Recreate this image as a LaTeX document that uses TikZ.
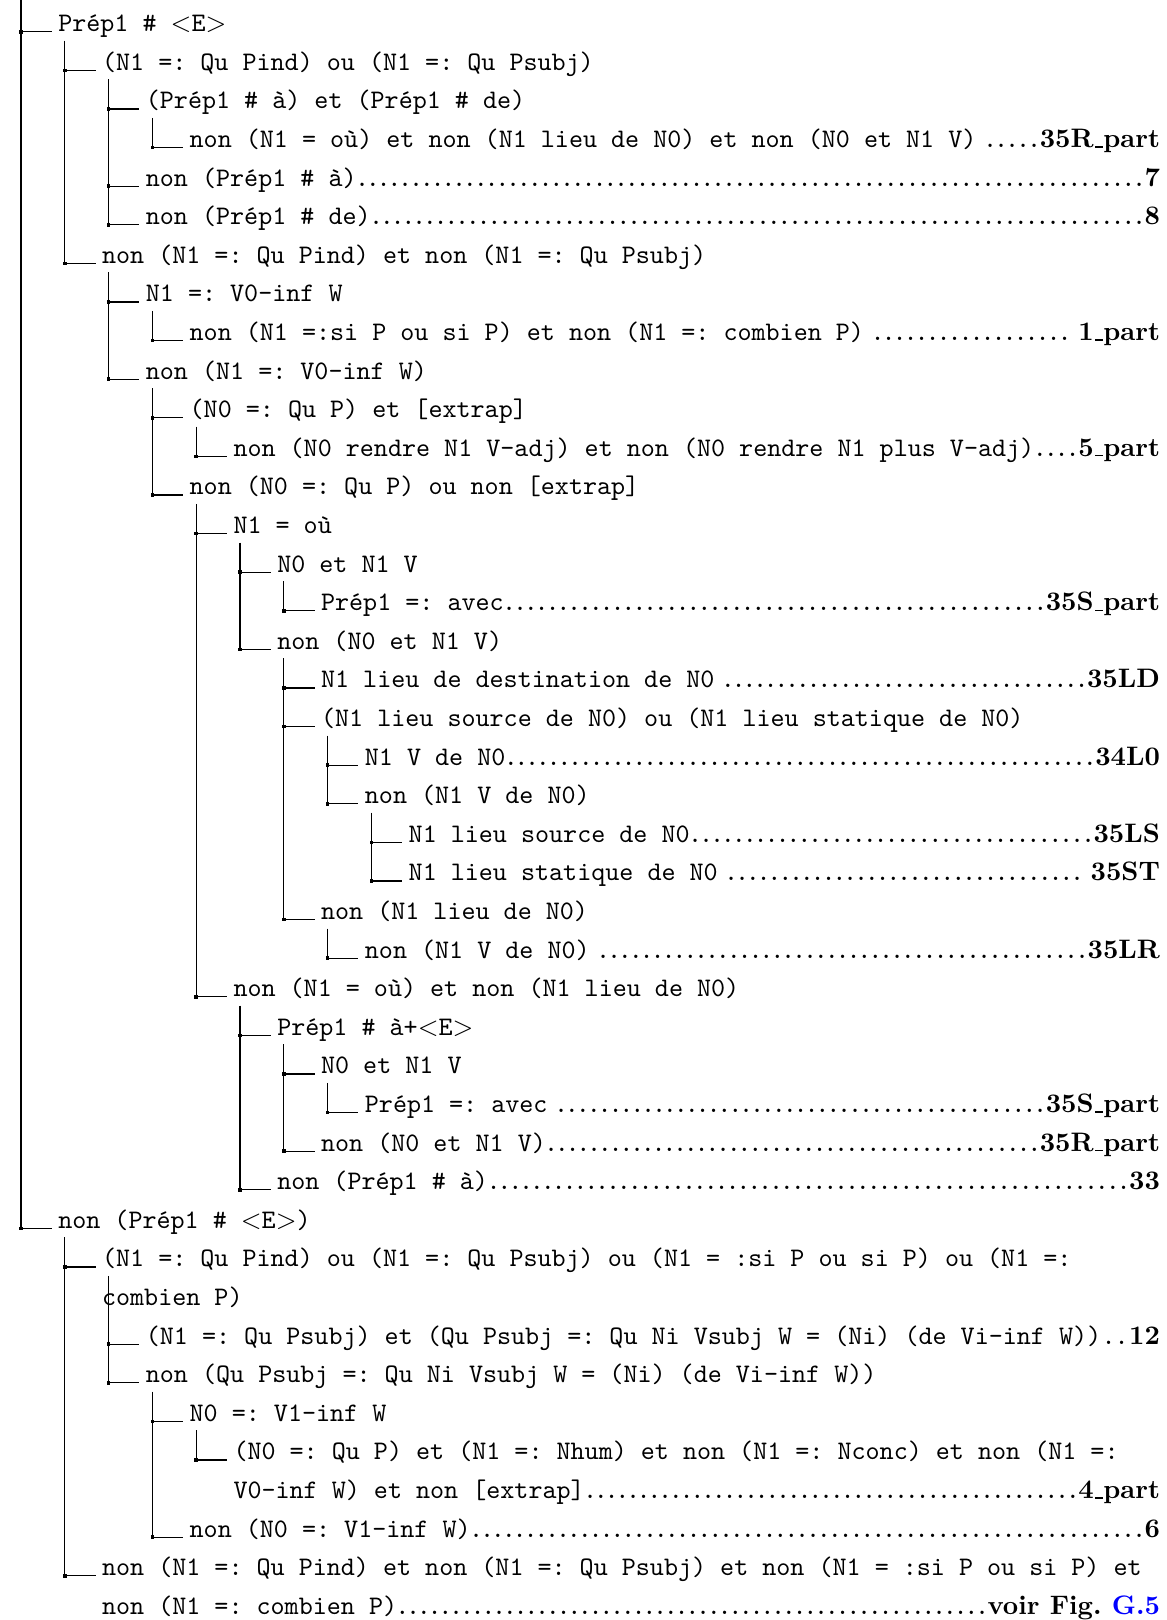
\documentclass[tikz,border=0pt]{standalone}
\usepackage{fontspec}
\usetikzlibrary{calc}
\frenchspacing
\newcommand{\ufac}{0.3737}
\newcommand{\dfill}{\xleaders\hbox to 4pt{\hss.\hss}\hfill}
\newcommand{\lbl}[1]{{\rmfamily\bfseries #1}}
\newcommand{\us}{\leavevmode\kern.06em\vbox{\hrule width.3em}}
\newcommand{\gp}{\hskip 3pt}
\newcommand{\LE}{\(<\)E\(>\)}
\newcommand{\trow}[4]{%
  \coordinate (j#1) at ({21+43.8*(#3-1)},{31.7+38.6*(#2-1)});
  \node[rowtext] (#1) at ({58.3+43.8*(#3-1)},{31.7+38.6*(#2-1)}) {#4};
  \draw[conn, shorten >=2.45pt] (j#1) -- (#1.base west);
  \node[sq] (s#1) at (j#1) {};
}
\newcommand{\dotbox}[3]{% depth, text, label
  \pgfmathsetmacro{\rw}{(1160-58.3-43.8*(#1-1))*\ufac}%
  \hbox to \rw pt{#2\dfill\lbl{#3}}%
}
\newcommand{\lrow}[5]{\trow{#1}{#2}{#3}{\dotbox{#3}{#4}{#5}}}
\newcommand{\crow}[4]{%
  \node[rowtext] (#1) at ({58.3+43.8*(#3-1)},{31.7+38.6*(#2-1)}) {#4};
}
\newcommand{\clrow}[5]{\crow{#1}{#2}{#3}{\dotbox{#3}{#4}{#5}}}
\newcommand{\vl}[2]{\draw[conn] ($(j#2 |- #1.base west)+(0,9)$) -- (j#2);}
\begin{document}
\begin{tikzpicture}[x=0.3737pt, y=-0.3737pt,
  rowtext/.style={anchor=base west, inner sep=0pt, outer sep=0pt, font=\ttfamily\frenchspacing},
  conn/.style={line width=0.45pt, draw=black},
  sq/.style={rectangle, fill=black, draw=none, inner sep=0pt, minimum size=1.35pt}]
\fill[white] (0,0) rectangle (1167,1620);
\useasboundingbox (0,0) rectangle (1167,1620);
\coordinate (top) at (21,0);

\trow{r1}{1}{1}{Prép1 \# \LE}
\trow{r2}{2}{2}{(N1 =: Qu Pind) ou (N1 =: Qu Psubj)}
\trow{r3}{3}{3}{(Prép1 \# à) et (Prép1 \# de)}
\lrow{r4}{4}{4}{non (N1 = où) et non (N1 lieu de N0) et non (N0 et N1 V)\gp}{35R\us part}
\lrow{r5}{5}{3}{non (Prép1 \# à)}{7}
\lrow{r6}{6}{3}{non (Prép1 \# de)}{8}
\trow{r7}{7}{2}{non (N1 =: Qu Pind) et non (N1 =: Qu Psubj)}
\trow{r8}{8}{3}{N1 =: V0-inf W}
\lrow{r9}{9}{4}{non (N1 =:si P ou si P) et non (N1 =: combien P)\gp}{\gp 1\us part}
\trow{r10}{10}{3}{non (N1 =: V0-inf W)}
\trow{r11}{11}{4}{(N0 =: Qu P) et [extrap]}
\lrow{r12}{12}{5}{non (N0 rendre N1 V-adj) et non (N0 rendre N1 plus V-adj)}{5\us part}
\trow{r13}{13}{4}{non (N0 =: Qu P) ou non [extrap]}
\trow{r14}{14}{5}{N1 = où}
\trow{r15}{15}{6}{N0 et N1 V}
\lrow{r16}{16}{7}{Prép1 =: avec}{35S\us part}
\trow{r17}{17}{6}{non (N0 et N1 V)}
\lrow{r18}{18}{7}{N1 lieu de destination de N0\gp}{35LD}
\trow{r19}{19}{7}{(N1 lieu source de N0) ou (N1 lieu statique de N0)}
\lrow{r20}{20}{8}{N1 V de N0}{34L0}
\trow{r21}{21}{8}{non (N1 V de N0)}
\lrow{r22}{22}{9}{N1 lieu source de N0}{35LS}
\lrow{r23}{23}{9}{N1 lieu statique de N0\gp}{\gp 35ST}
\trow{r24}{24}{7}{non (N1 lieu de N0)}
\lrow{r25}{25}{8}{non (N1 V de N0)\gp}{35LR}
\trow{r26}{26}{5}{non (N1 = où) et non (N1 lieu de N0)}
\trow{r27}{27}{6}{Prép1 \# à+\LE}
\trow{r28}{28}{7}{N0 et N1 V}
\lrow{r29}{29}{8}{Prép1 =: avec\gp}{35S\us part}
\lrow{r30}{30}{7}{non (N0 et N1 V)}{35R\us part}
\lrow{r31}{31}{6}{non (Prép1 \# à)}{33}
\trow{r32}{32}{1}{non (Prép1 \# \LE)}
\trow{r33}{33}{2}{(N1 =: Qu Pind) ou (N1 =: Qu Psubj) ou (N1 = :si P ou si P) ou (N1 =:}
\crow{r34}{34}{2}{combien P)}
\lrow{r35}{35}{3}{(N1 =: Qu Psubj) et (Qu Psubj =: Qu Ni Vsubj W = (Ni) (de Vi-inf W))}{12}
\trow{r36}{36}{3}{non (Qu Psubj =: Qu Ni Vsubj W = (Ni) (de Vi-inf W))}
\trow{r37}{37}{4}{N0 =: V1-inf W}
\trow{r38}{38}{5}{(N0 =: Qu P) et (N1 =: Nhum) et non (N1 =: Nconc) et non (N1 =:}
\clrow{r39}{39}{5}{V0-inf W) et non [extrap]}{4\us part}
\lrow{r40}{40}{4}{non (N0 =: V1-inf W)}{6}
\trow{r41}{41}{2}{non (N1 =: Qu Pind) et non (N1 =: Qu Psubj) et non (N1 = :si P ou si P) et}
\clrow{r42}{42}{2}{non (N1 =: combien P)}{voir Fig. \textcolor{blue}{G.5}}

\draw[conn] (top) -- (jr32);
\vl{r1}{r7}
\vl{r2}{r6}
\vl{r3}{r4}
\vl{r7}{r10}
\vl{r8}{r9}
\vl{r10}{r13}
\vl{r11}{r12}
\vl{r13}{r26}
\vl{r14}{r17}
\vl{r15}{r16}
\vl{r17}{r24}
\vl{r19}{r21}
\vl{r21}{r23}
\vl{r24}{r25}
\vl{r26}{r31}
\vl{r27}{r30}
\vl{r28}{r29}
\vl{r32}{r41}
\vl{r33}{r36}
\vl{r36}{r40}
\vl{r37}{r38}
\end{tikzpicture}
\end{document}
